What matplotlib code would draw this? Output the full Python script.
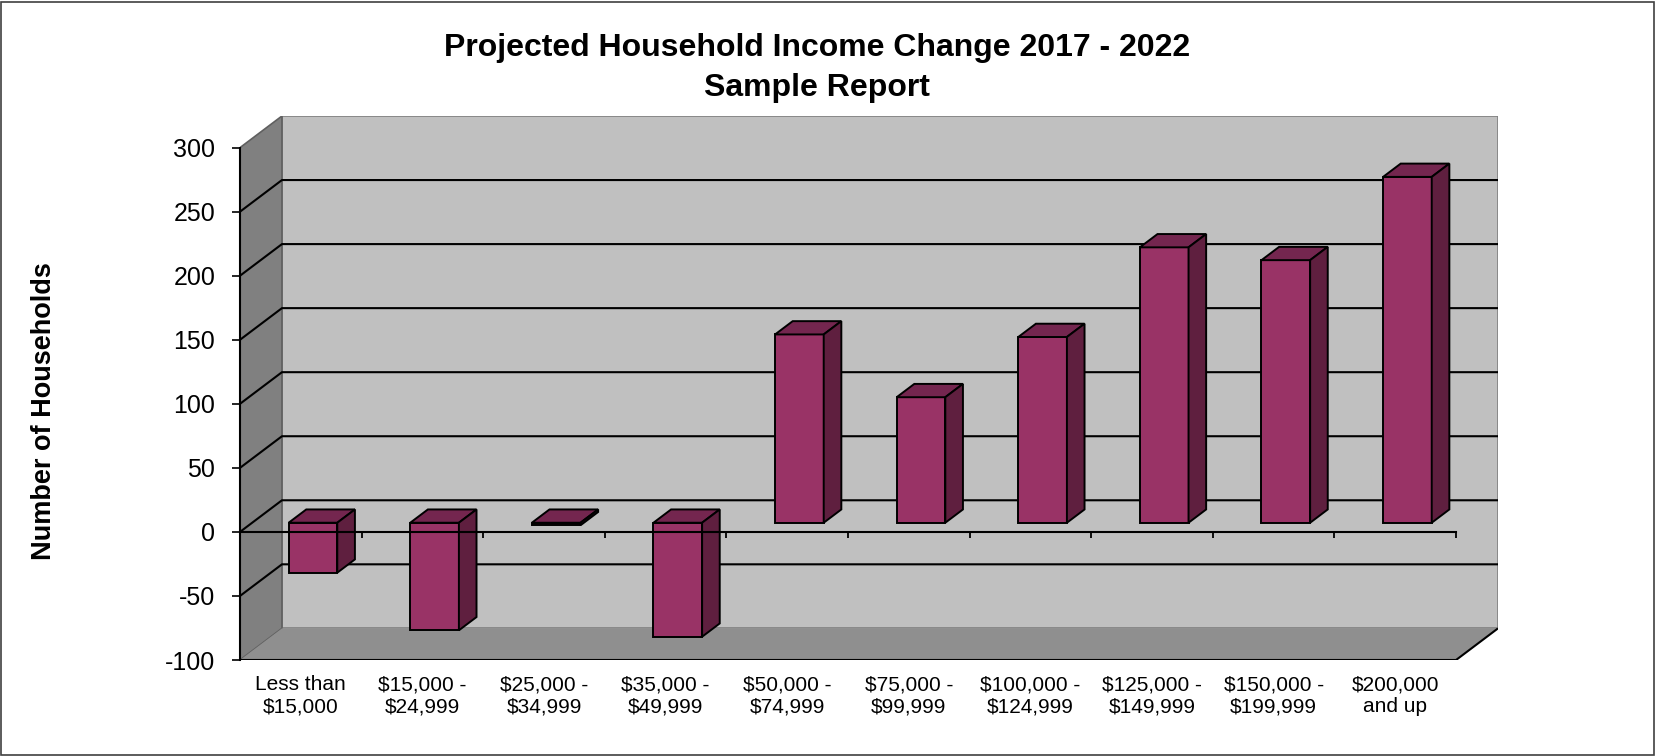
import numpy as np
import matplotlib
matplotlib.use('Agg')
import matplotlib.pyplot as plt
from matplotlib.patches import Polygon, Rectangle

plt.rcParams['font.family'] = ['Liberation Sans', 'DejaVu Sans']

# data
categories = ['Less than\n$15,000', '$15,000 -\n$24,999', '$25,000 -\n$34,999',
              '$35,000 -\n$49,999', '$50,000 -\n$74,999', '$75,000 -\n$99,999',
              '$100,000 -\n$124,999', '$125,000 -\n$149,999', '$150,000 -\n$199,999',
              '$200,000\nand up']
values = [-39, -84, -2, -89, 147, 98, 145, 215, 205, 270]
yticks = [-100, -50, 0, 50, 100, 150, 200, 250, 300]
title = 'Projected Household Income Change 2017 - 2022\nSample Report'
ylabel = 'Number of Households'

# fake 3d depth offsets (in data units) of the back wall
DX = 0.345
DY = 24.7
YMIN, YMAX = -100, 300
n = len(categories)

front_c = '#993366'
top_c = '#74264f'
side_c = '#5f1f3f'


def proj(x, y, z):
    return (x + z * DX, y + z * DY)


fig = plt.figure(figsize=(16.56, 7.56), dpi=100)
ax = fig.add_axes([240 / 1656, 1 - 660 / 756, 1258 / 1656, 544 / 756])
ax.set_xlim(0, n + DX)
ax.set_ylim(YMIN, YMAX + DY)
ax.patch.set_visible(False)

# walls and floor
back = Polygon([proj(0, YMIN, 1), proj(n, YMIN, 1), proj(n, YMAX, 1), proj(0, YMAX, 1)],
               closed=True, facecolor='#c0c0c0', edgecolor='#808080', lw=1.2, zorder=1)
side = Polygon([proj(0, YMIN, 0), proj(0, YMIN, 1), proj(0, YMAX, 1), proj(0, YMAX, 0)],
               closed=True, facecolor='#808080', edgecolor='#606060', lw=1.2, zorder=1)
floor = Polygon([proj(0, YMIN, 0), proj(n, YMIN, 0), proj(n, YMIN, 1), proj(0, YMIN, 1)],
                closed=True, facecolor='#8f8f8f', edgecolor='none', zorder=1)
for p in (back, side, floor):
    ax.add_patch(p)
# black front and right edges of the floor
ax.plot([0, n, n + DX], [YMIN, YMIN, YMIN + DY], color='black', lw=1.5, zorder=2,
        solid_capstyle='butt')

# gridlines on side wall and back wall
for v in yticks[1:-1]:
    ax.plot([0, DX, n + DX], [v, v + DY, v + DY], color='black', lw=1.5, zorder=2)

# bars
x0, x1 = 0.3, 0.7
z0, z1 = 0.29, 0.71
lefts = np.arange(n) + x0 + z0 * DX
ax.bar(lefts, values, width=x1 - x0, bottom=z0 * DY, align='edge',
       color=front_c, edgecolor='black', linewidth=1.4, zorder=3)
for i, v in enumerate(values):
    top = max(v, 0)
    bot = min(v, 0)
    a, b = i + x0, i + x1
    ax.add_patch(Polygon([proj(a, top, z0), proj(b, top, z0), proj(b, top, z1), proj(a, top, z1)],
                         closed=True, facecolor=top_c, edgecolor='black', lw=1.4, zorder=3))
    ax.add_patch(Polygon([proj(b, bot, z0), proj(b, bot, z1), proj(b, top, z1), proj(b, top, z0)],
                         closed=True, facecolor=side_c, edgecolor='black', lw=1.4, zorder=3))

# front zero axis with category tick marks
ax.plot([0, n], [0, 0], color='black', lw=1.5, zorder=4)
ax.vlines(np.arange(n + 1), -4.5, 0, color='black', lw=1.3, zorder=4)

# y axis
for s in ['top', 'right', 'bottom']:
    ax.spines[s].set_visible(False)
ax.spines['left'].set_bounds(YMIN, YMAX)
ax.spines['left'].set_linewidth(1.5)
ax.spines['left'].set_zorder(5)
ax.set_yticks(yticks)
ax.set_yticklabels([str(t) for t in yticks])
ax.tick_params(axis='y', direction='out', length=5.8, width=1.2, pad=12, labelsize=18)

# category labels
ax.set_xticks(np.arange(n) + 0.5)
ax.set_xticklabels(categories, fontsize=15, linespacing=1.2)
ax.tick_params(axis='x', length=0, pad=11)

fig.text(817 / 1656, 1 - 68 / 756, title, ha='center', va='center',
         fontsize=23, fontweight='bold', linespacing=1.4)
fig.text(44 / 1656, 1 - 411 / 756, ylabel, ha='center', va='center',
         rotation=90, fontsize=19.5, fontweight='bold')

fig.add_artist(Rectangle((0.0005, 0.001), 0.998, 0.997, transform=fig.transFigure,
                         fill=False, edgecolor='#404040', lw=1.2))

fig.savefig('out.png', dpi=100)
